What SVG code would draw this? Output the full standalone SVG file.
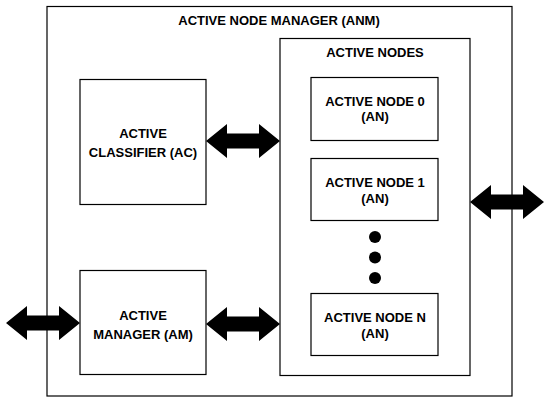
<svg xmlns="http://www.w3.org/2000/svg" width="550" height="404" viewBox="0 0 550 404">
<style>
.box{fill:#fff;stroke:#000;stroke-width:1.2}
.t{font-family:"Liberation Sans",Arial,sans-serif;font-weight:bold;font-size:13px;text-anchor:middle;fill:#000}
.arr{fill:#000}
</style>
<defs>
<path id="dbl" d="M0,0 L21,-17 L21,-7.5 L53,-7.5 L53,-17 L74,0 L53,17 L53,7.5 L21,7.5 L21,17 Z"/>
</defs>
<rect width="550" height="404" fill="#fff"/>
<g id="anm">
<rect class="box" x="47" y="6.5" width="465" height="389.5"/>
<text class="t" x="279" y="25">ACTIVE NODE MANAGER (ANM)</text>
</g>
<g id="active-nodes">
<rect class="box" x="280" y="38.5" width="190" height="337"/>
<text class="t" x="375" y="57">ACTIVE NODES</text>
</g>
<g id="ac">
<rect class="box" x="80" y="79.5" width="126" height="125"/>
<text class="t" x="143" y="138">ACTIVE</text>
<text class="t" x="143" y="157">CLASSIFIER (AC)</text>
</g>
<g id="am">
<rect class="box" x="80" y="270.5" width="126" height="104"/>
<text class="t" x="143" y="320">ACTIVE</text>
<text class="t" x="143" y="339">MANAGER (AM)</text>
</g>
<g id="an0">
<rect class="box" x="311" y="77.5" width="127" height="63"/>
<text class="t" x="375" y="106">ACTIVE NODE 0</text>
<text class="t" x="375" y="121">(AN)</text>
</g>
<g id="an1">
<rect class="box" x="311" y="158.5" width="127" height="62"/>
<text class="t" x="375" y="187">ACTIVE NODE 1</text>
<text class="t" x="375" y="203">(AN)</text>
</g>
<g id="dots">
<circle cx="375" cy="237" r="6"/>
<circle cx="375" cy="257.5" r="6"/>
<circle cx="375" cy="278" r="6"/>
</g>
<g id="ann">
<rect class="box" x="311" y="293.5" width="127" height="62"/>
<text class="t" x="375" y="322">ACTIVE NODE N</text>
<text class="t" x="375" y="338">(AN)</text>
</g>
<g id="connectors">
<use href="#dbl" class="arr" x="206" y="141"/>
<use href="#dbl" class="arr" x="206" y="324"/>
<use href="#dbl" class="arr" x="6" y="323"/>
<use href="#dbl" class="arr" x="470" y="202"/>
</g>
</svg>
